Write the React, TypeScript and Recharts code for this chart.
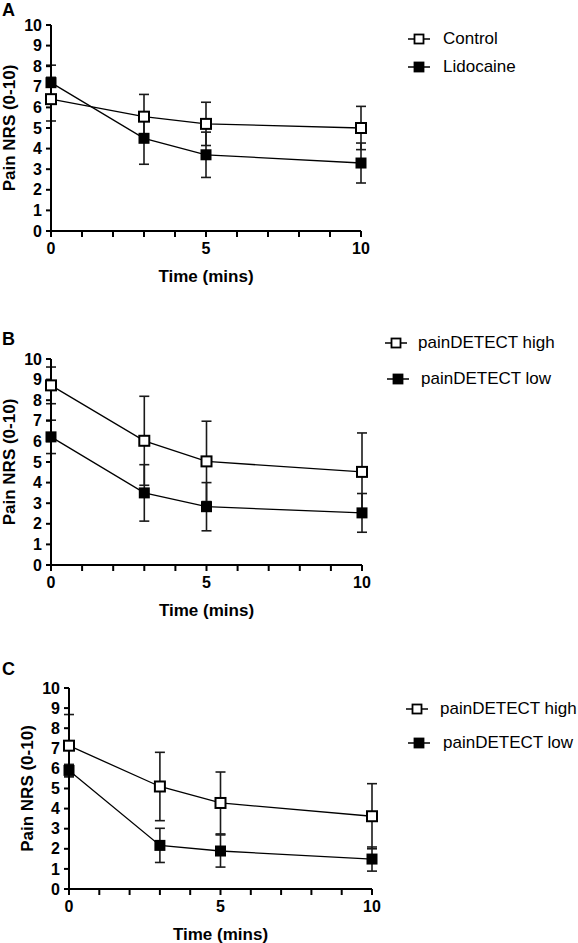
import React from 'react'
import { LineChart, Line, XAxis, YAxis, ErrorBar } from 'recharts'

const TIMES = [0, 3, 5, 10]
const X_TICKS = [0, 1, 2, 3, 4, 5, 6, 7, 8, 9, 10]
const Y_TICKS = [0, 1, 2, 3, 4, 5, 6, 7, 8, 9, 10]
const X_LABELED = [0, 5, 10]

// panel A
const A_CONTROL = [6.4, 5.55, 5.2, 5.0]
const A_CONTROL_SD = [1.06, 1.08, 1.05, 1.05]
const A_LIDOCAINE = [7.2, 4.5, 3.7, 3.3]
const A_LIDOCAINE_SD = [0.85, 1.26, 1.1, 0.97]

// panel B
const B_HIGH = [8.72, 6.03, 5.03, 4.52]
const B_HIGH_SD = [0.89, 2.16, 1.95, 1.89]
const B_LOW = [6.22, 3.5, 2.83, 2.53]
const B_LOW_SD = [0.81, 1.37, 1.17, 0.94]

// panel C
const C_HIGH = [7.13, 5.1, 4.28, 3.62]
const C_HIGH_SD = [1.55, 1.7, 1.54, 1.62]
const C_LOW = [5.9, 2.17, 1.89, 1.49]
const C_LOW_SD = [0.3, 0.85, 0.8, 0.6]

const FONT = '"Liberation Sans", Arial, Helvetica, sans-serif'

const buildRows = (open: number[], openSd: number[], filled: number[], filledSd: number[]) =>
  TIMES.map((t, i) => ({ t, open: open[i], openSd: openSd[i], filled: filled[i], filledSd: filledSd[i] }))

const OpenSquare = (props: any) => {
  const { cx, cy, index } = props
  if (cx == null || cy == null) return <g key={`o${index}`} />
  return <rect key={`o${index}`} x={cx - 5} y={cy - 5} width={10} height={10} fill="#fff" stroke="#000" strokeWidth={2} />
}

const FilledSquare = (props: any) => {
  const { cx, cy, index } = props
  if (cx == null || cy == null) return <g key={`f${index}`} />
  return <rect key={`f${index}`} x={cx - 5.5} y={cy - 5.5} width={11} height={11} fill="#000" />
}

const LegendMark = ({ filled }: { filled: boolean }) => (
  <svg width={22} height={12} style={{ display: 'block' }}>
    <line x1={0} y1={6} x2={22} y2={6} stroke="#000" strokeWidth={1.5} />
    <rect x={6.5} y={1.5} width={9} height={9} fill={filled ? '#000' : '#fff'} stroke="#000" strokeWidth={1.8} />
  </svg>
)

type LegendRow = { label: string; filled: boolean; markX: number; textX: number; y: number }

type PanelProps = {
  letter: string
  letterTop: number
  top: number
  plotTop: number
  plotHeight: number
  axisWidth: number
  plotRight: number
  rows: any[]
  legend: LegendRow[]
}

function Panel({ letter, letterTop, top, plotTop, plotHeight, axisWidth, plotRight, rows, legend }: PanelProps) {
  const xAxisHeight = 56
  const height = plotTop + plotHeight + xAxisHeight
  return (
    <>
      <div style={{ position: 'absolute', left: 2, top: letterTop, fontFamily: FONT, fontWeight: 700, fontSize: 18, lineHeight: '18px' }}>
        {letter}
      </div>
      <div style={{ position: 'absolute', left: 0, top }}>
        <LineChart
          width={578}
          height={height}
          data={rows}
          margin={{ top: plotTop, right: 578 - plotRight, bottom: 0, left: 0 }}
          style={{ fontFamily: FONT }}
        >
          <XAxis
            type="number"
            dataKey="t"
            domain={[0, 10]}
            ticks={X_TICKS}
            interval={0}
            height={xAxisHeight}
            tickFormatter={(v: number) => (X_LABELED.includes(v) ? String(v) : '')}
            tick={{ fill: '#000', fontSize: 16, fontWeight: 700 }}
            axisLine={{ stroke: '#000', strokeWidth: 2 }}
            tickLine={{ stroke: '#000', strokeWidth: 2 }}
            tickSize={6}
            tickMargin={6}
            label={(p: any) => {
              const vb = p.viewBox
              return (
                <text x={vb.x + vb.width / 2} y={vb.y + 51} textAnchor="middle" fontSize={17} fontWeight={700} fill="#000" fontFamily={FONT}>
                  Time (mins)
                </text>
              )
            }}
          />
          <YAxis
            type="number"
            domain={[0, 10]}
            ticks={Y_TICKS}
            interval={0}
            width={axisWidth}
            tick={{ fill: '#000', fontSize: 16, fontWeight: 700 }}
            axisLine={{ stroke: '#000', strokeWidth: 2 }}
            tickLine={{ stroke: '#000', strokeWidth: 2 }}
            tickSize={5}
            tickMargin={4}
            label={(p: any) => {
              const vb = p.viewBox
              const cx = vb.x + vb.width - 42
              const cy = vb.y + vb.height / 2
              return (
                <text
                  x={cx}
                  y={cy}
                  transform={`rotate(-90, ${cx}, ${cy})`}
                  textAnchor="middle"
                  dominantBaseline="central"
                  fontSize={17}
                  fontWeight={700}
                  fill="#000"
                  fontFamily={FONT}
                >
                  Pain NRS (0-10)
                </text>
              )
            }}
          />
          <Line dataKey="open" stroke="#000" strokeWidth={1.3} dot={OpenSquare} activeDot={false} isAnimationActive={false}>
            <ErrorBar dataKey="openSd" direction="y" width={5} stroke="#1a1a1a" strokeWidth={1.6} />
          </Line>
          <Line dataKey="filled" stroke="#000" strokeWidth={1.3} dot={FilledSquare} activeDot={false} isAnimationActive={false}>
            <ErrorBar dataKey="filledSd" direction="y" width={5} stroke="#1a1a1a" strokeWidth={1.6} />
          </Line>
        </LineChart>
      </div>
      {legend.map((r) => (
        <React.Fragment key={r.label}>
          <div style={{ position: 'absolute', left: r.markX - 11, top: r.y - 6 }}>
            <LegendMark filled={r.filled} />
          </div>
          <div style={{ position: 'absolute', left: r.textX, top: r.y - 10, fontFamily: FONT, fontSize: 17, lineHeight: '20px', color: '#000', whiteSpace: 'nowrap' }}>
            {r.label}
          </div>
        </React.Fragment>
      ))}
    </>
  )
}

export default function App() {
  return (
    <div style={{ position: 'absolute', left: 0, top: 0, width: 578, height: 943, background: '#fff', overflow: 'hidden' }}>
      <Panel
        letter="A"
        letterTop={1}
        top={0}
        plotTop={25}
        plotHeight={206}
        axisWidth={51}
        plotRight={361}
        rows={buildRows(A_CONTROL, A_CONTROL_SD, A_LIDOCAINE, A_LIDOCAINE_SD)}
        legend={[
          { label: 'Control', filled: false, markX: 419, textX: 443, y: 39 },
          { label: 'Lidocaine', filled: true, markX: 419, textX: 443, y: 67 },
        ]}
      />
      <Panel
        letter="B"
        letterTop={330}
        top={300}
        plotTop={59}
        plotHeight={206}
        axisWidth={51}
        plotRight={362}
        rows={buildRows(B_HIGH, B_HIGH_SD, B_LOW, B_LOW_SD)}
        legend={[
          { label: 'painDETECT high', filled: false, markX: 396, textX: 418, y: 343 },
          { label: 'painDETECT low', filled: true, markX: 398, textX: 421, y: 379 },
        ]}
      />
      <Panel
        letter="C"
        letterTop={660}
        top={630}
        plotTop={58}
        plotHeight={201}
        axisWidth={69}
        plotRight={372}
        rows={buildRows(C_HIGH, C_HIGH_SD, C_LOW, C_LOW_SD)}
        legend={[
          { label: 'painDETECT high', filled: false, markX: 417, textX: 440, y: 709 },
          { label: 'painDETECT low', filled: true, markX: 419, textX: 443, y: 743 },
        ]}
      />
    </div>
  )
}
